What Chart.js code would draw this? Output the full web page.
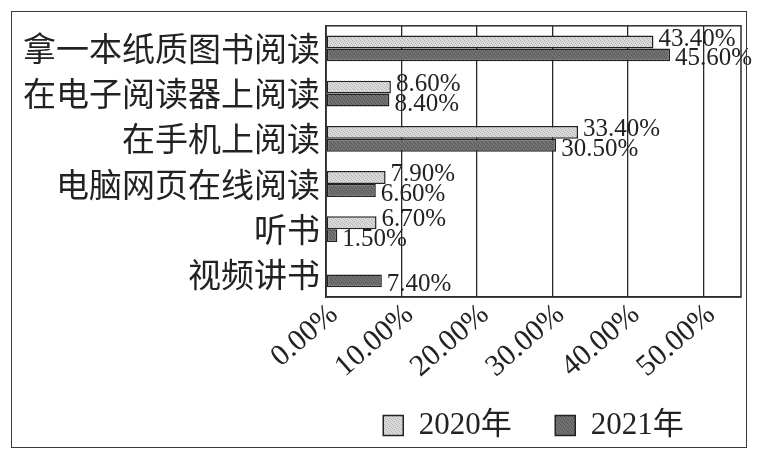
<!DOCTYPE html>
<html><head><meta charset="utf-8">
<script src="https://cdn.jsdelivr.net/npm/chart.js@4"></script>
<style>
html,body{margin:0;padding:0;background:#fff;width:759px;height:454px;overflow:hidden;}
#c{position:absolute;left:0;top:0;width:759px;height:454px;}
#frame{position:absolute;left:11px;top:11px;width:734px;height:435px;border:1.5px solid #3a3a3a;pointer-events:none;}
</style></head><body>
<canvas id="c" width="759" height="454"></canvas>
<div id="frame"></div>
<script>
const categories = ['拿一本纸质图书阅读','在电子阅读器上阅读','在手机上阅读','电脑网页在线阅读','听书','视频讲书'];
const seriesNames = ['2020年','2021年'];
const values2020 = [43.4, 8.6, 33.4, 7.9, 6.7, null];
const values2021 = [45.6, 8.4, 30.5, 6.6, 1.5, 7.4];
const xTicks = [0, 10, 20, 30, 40, 50];
const xMax = 55;

const serif = '"Liberation Serif", "Noto Sans CJK SC", serif';
const cjk = '"Noto Sans CJK SC", sans-serif';

function makePattern(base, dots) {
  const p = document.createElement('canvas');
  p.width = 4; p.height = 4;
  const g = p.getContext('2d');
  g.fillStyle = base; g.fillRect(0, 0, 4, 4);
  g.fillStyle = dots;
  g.fillRect(0, 0, 1, 1); g.fillRect(2, 1, 1, 1); g.fillRect(1, 2, 1, 1); g.fillRect(3, 3, 1, 1);
  return document.getElementById('c').getContext('2d').createPattern(p, 'repeat');
}
const fillLight = makePattern('#dadada', '#b4b4b4');
const fillDark = makePattern('#727272', '#555555');

const frameArea = {
  id: 'frameArea',
  beforeDatasetsDraw(chart) {
    const {ctx, chartArea: a} = chart;
    ctx.save();
    ctx.strokeStyle = '#2e2e2e';
    ctx.lineWidth = 1.5;
    ctx.strokeRect(a.left, a.top, a.right - a.left, a.bottom - a.top);
    ctx.restore();
  }
};

const valueLabels = {
  id: 'valueLabels',
  afterDatasetsDraw(chart) {
    const {ctx} = chart;
    ctx.save();
    ctx.font = '25px ' + serif;
    ctx.fillStyle = '#222';
    ctx.textAlign = 'left';
    ctx.textBaseline = 'middle';
    chart.data.datasets.forEach((ds, di) => {
      const meta = chart.getDatasetMeta(di);
      meta.data.forEach((el, i) => {
        const v = ds.data[i];
        if (v === null || v === undefined) return;
        const dy = di === 0 ? -3 : 4;
        ctx.fillText(v.toFixed(2) + '%', el.x + 5, el.y + dy);
      });
    });
    ctx.restore();
  }
};

new Chart(document.getElementById('c'), {
  type: 'bar',
  data: {
    labels: categories,
    datasets: [
      { label: seriesNames[0], data: values2020, backgroundColor: fillLight, borderColor: '#222', borderWidth: 1.5, borderSkipped: false, categoryPercentage: 0.57, barPercentage: 1 },
      { label: seriesNames[1], data: values2021, backgroundColor: fillDark, borderColor: '#222', borderWidth: 1.5, borderSkipped: false, categoryPercentage: 0.57, barPercentage: 1 }
    ]
  },
  options: {
    indexAxis: 'y',
    responsive: false,
    animation: false,
    devicePixelRatio: 1,
    layout: { padding: { top: 25, right: 18, bottom: 3, left: 0 } },
    plugins: {
      legend: {
        position: 'bottom',
        fullSize: false,
        labels: {
          boxWidth: 20, boxHeight: 20, padding: 28,
          color: '#222',
          font: { family: serif, size: 31 },
          generateLabels(chart) {
            const items = Chart.defaults.plugins.legend.labels.generateLabels(chart);
            items.forEach((it, i) => { if (i < items.length - 1) it.text = it.text + '\u2002'; });
            return items;
          }
        }
      },
      tooltip: { enabled: false }
    },
    scales: {
      x: {
        type: 'linear',
        min: 0, max: xMax,
        afterFit(s) { s.height = 85; },
        afterBuildTicks(s) { s.ticks = xTicks.concat([xMax]).map(v => ({ value: v })); },
        ticks: {
          autoSkip: false,
          minRotation: 41, maxRotation: 41,
          padding: 0,
          labelOffset: 8,
          color: '#222',
          font: { family: serif, size: 30 },
          callback: (v) => xTicks.includes(v) ? v.toFixed(2) + '%' : null
        },
        grid: { color: '#2a2a2a', lineWidth: 1.3, drawTicks: false },
        border: { color: '#2e2e2e', width: 1.5 }
      },
      y: {
        afterFit(s) { s.width = 326; },
        ticks: {
          padding: 6,
          color: '#222',
          font: { family: cjk, size: 33 }
        },
        grid: { display: false, drawTicks: false },
        border: { color: '#2e2e2e', width: 1.5 }
      }
    }
  },
  plugins: [frameArea, valueLabels]
});
</script>
</body></html>
